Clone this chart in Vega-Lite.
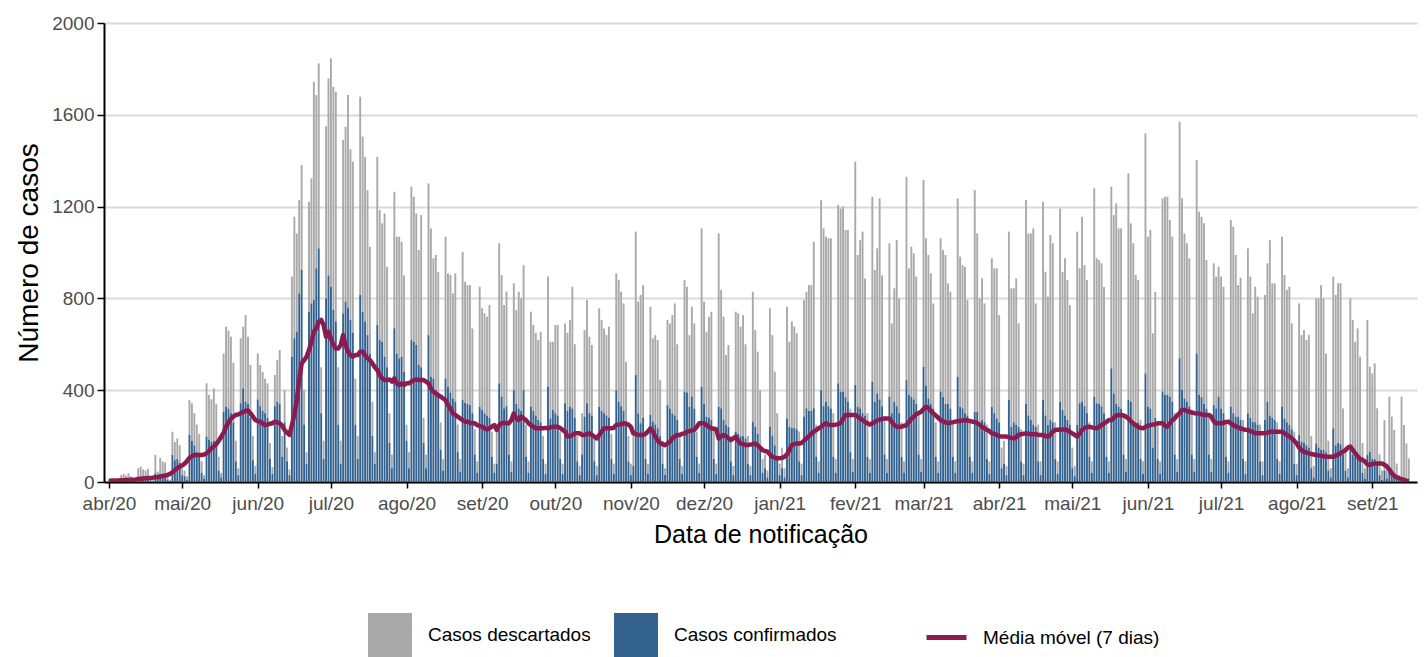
{
"$schema":"https://vega.github.io/schema/vega-lite/v6.json",
"width":1313,"height":459,
"autosize":{"type":"none"},
"padding":{"left":104,"top":23,"right":7,"bottom":175},
"background":"white",
"config":{"view":{"stroke":null},"font":"Liberation Sans"},
"data":{"values":[
{"data":"2020-04-01","conf":2,"desc":10,"mm":5},{"data":"2020-04-02","conf":3,"desc":12,"mm":6},{"data":"2020-04-03","conf":2,"desc":8,"mm":6},{"data":"2020-04-04","conf":1,"desc":4,"mm":7},{"data":"2020-04-05","conf":0,"desc":3,"mm":7},
{"data":"2020-04-06","conf":8,"desc":22,"mm":8},{"data":"2020-04-07","conf":9,"desc":26,"mm":8},{"data":"2020-04-08","conf":7,"desc":21,"mm":9},{"data":"2020-04-09","conf":10,"desc":28,"mm":9},{"data":"2020-04-10","conf":8,"desc":17,"mm":10},{"data":"2020-04-11","conf":3,"desc":9,"mm":10},{"data":"2020-04-12","conf":1,"desc":4,"mm":11},
{"data":"2020-04-13","conf":20,"desc":40,"mm":13},{"data":"2020-04-14","conf":24,"desc":43,"mm":14},{"data":"2020-04-15","conf":22,"desc":33,"mm":15},{"data":"2020-04-16","conf":20,"desc":30,"mm":16},{"data":"2020-04-17","conf":22,"desc":36,"mm":17},{"data":"2020-04-18","conf":8,"desc":12,"mm":18},{"data":"2020-04-19","conf":3,"desc":5,"mm":19},
{"data":"2020-04-20","conf":38,"desc":80,"mm":21},{"data":"2020-04-21","conf":14,"desc":31,"mm":22},{"data":"2020-04-22","conf":36,"desc":69,"mm":24},{"data":"2020-04-23","conf":32,"desc":58,"mm":26},{"data":"2020-04-24","conf":30,"desc":55,"mm":28},{"data":"2020-04-25","conf":10,"desc":20,"mm":31},{"data":"2020-04-26","conf":4,"desc":6,"mm":35},
{"data":"2020-04-27","conf":118,"desc":101,"mm":42},{"data":"2020-04-28","conf":95,"desc":80,"mm":52},{"data":"2020-04-29","conf":100,"desc":90,"mm":60},{"data":"2020-04-30","conf":85,"desc":75,"mm":67},{"data":"2020-05-01","conf":30,"desc":30,"mm":72},{"data":"2020-05-02","conf":25,"desc":25,"mm":80},{"data":"2020-05-03","conf":10,"desc":15,"mm":92},
{"data":"2020-05-04","conf":205,"desc":152,"mm":105},{"data":"2020-05-05","conf":180,"desc":163,"mm":112},{"data":"2020-05-06","conf":160,"desc":140,"mm":118},{"data":"2020-05-07","conf":130,"desc":120,"mm":118},{"data":"2020-05-08","conf":110,"desc":100,"mm":118},{"data":"2020-05-09","conf":40,"desc":50,"mm":118},{"data":"2020-05-10","conf":15,"desc":15,"mm":120},
{"data":"2020-05-11","conf":197,"desc":233,"mm":125},{"data":"2020-05-12","conf":185,"desc":194,"mm":135},{"data":"2020-05-13","conf":175,"desc":185,"mm":147},{"data":"2020-05-14","conf":180,"desc":228,"mm":155},{"data":"2020-05-15","conf":160,"desc":180,"mm":165},{"data":"2020-05-16","conf":50,"desc":60,"mm":180},{"data":"2020-05-17","conf":20,"desc":20,"mm":197},
{"data":"2020-05-18","conf":306,"desc":254,"mm":215},{"data":"2020-05-19","conf":328,"desc":349,"mm":241},{"data":"2020-05-20","conf":320,"desc":340,"mm":260},{"data":"2020-05-21","conf":300,"desc":333,"mm":275},{"data":"2020-05-22","conf":260,"desc":260,"mm":285},{"data":"2020-05-23","conf":90,"desc":90,"mm":292},{"data":"2020-05-24","conf":30,"desc":30,"mm":295},
{"data":"2020-05-25","conf":343,"desc":283,"mm":299},{"data":"2020-05-26","conf":408,"desc":269,"mm":305},{"data":"2020-05-27","conf":350,"desc":377,"mm":310},{"data":"2020-05-28","conf":340,"desc":293,"mm":312},{"data":"2020-05-29","conf":280,"desc":230,"mm":300},{"data":"2020-05-30","conf":95,"desc":105,"mm":285},{"data":"2020-05-31","conf":35,"desc":35,"mm":270},
{"data":"2020-06-01","conf":360,"desc":200,"mm":265},{"data":"2020-06-02","conf":330,"desc":180,"mm":263},{"data":"2020-06-03","conf":310,"desc":170,"mm":255},{"data":"2020-06-04","conf":300,"desc":150,"mm":248},{"data":"2020-06-05","conf":280,"desc":150,"mm":250},{"data":"2020-06-06","conf":100,"desc":70,"mm":254},{"data":"2020-06-07","conf":35,"desc":30,"mm":256},
{"data":"2020-06-08","conf":330,"desc":136,"mm":263},{"data":"2020-06-09","conf":350,"desc":181,"mm":260},{"data":"2020-06-10","conf":340,"desc":235,"mm":256},{"data":"2020-06-11","conf":110,"desc":90,"mm":245},{"data":"2020-06-12","conf":260,"desc":140,"mm":227},{"data":"2020-06-13","conf":90,"desc":60,"mm":215},{"data":"2020-06-14","conf":30,"desc":25,"mm":205},
{"data":"2020-06-15","conf":546,"desc":349,"mm":248},{"data":"2020-06-16","conf":626,"desc":530,"mm":292},{"data":"2020-06-17","conf":655,"desc":428,"mm":357},{"data":"2020-06-18","conf":822,"desc":407,"mm":444},{"data":"2020-06-19","conf":924,"desc":457,"mm":517},{"data":"2020-06-20","conf":250,"desc":150,"mm":531},{"data":"2020-06-21","conf":80,"desc":50,"mm":546},
{"data":"2020-06-22","conf":742,"desc":479,"mm":575},{"data":"2020-06-23","conf":778,"desc":545,"mm":611},{"data":"2020-06-24","conf":793,"desc":951,"mm":655},{"data":"2020-06-25","conf":931,"desc":755,"mm":669},{"data":"2020-06-26","conf":1018,"desc":806,"mm":698},{"data":"2020-06-27","conf":300,"desc":200,"mm":706},{"data":"2020-06-28","conf":100,"desc":80,"mm":684},
{"data":"2020-06-29","conf":800,"desc":750,"mm":633},{"data":"2020-06-30","conf":900,"desc":859,"mm":655},{"data":"2020-07-01","conf":850,"desc":996,"mm":626},{"data":"2020-07-02","conf":750,"desc":972,"mm":597},{"data":"2020-07-03","conf":700,"desc":1000,"mm":582},{"data":"2020-07-04","conf":250,"desc":250,"mm":582},{"data":"2020-07-05","conf":80,"desc":100,"mm":597},
{"data":"2020-07-06","conf":735,"desc":755,"mm":640},{"data":"2020-07-07","conf":786,"desc":762,"mm":597},{"data":"2020-07-08","conf":760,"desc":926,"mm":568},{"data":"2020-07-09","conf":706,"desc":744,"mm":553},{"data":"2020-07-10","conf":650,"desc":746,"mm":546},{"data":"2020-07-11","conf":250,"desc":200,"mm":553},{"data":"2020-07-12","conf":100,"desc":100,"mm":553},
{"data":"2020-07-13","conf":815,"desc":864,"mm":568},{"data":"2020-07-14","conf":742,"desc":763,"mm":568},{"data":"2020-07-15","conf":700,"desc":717,"mm":553},{"data":"2020-07-16","conf":640,"desc":632,"mm":539},{"data":"2020-07-17","conf":560,"desc":465,"mm":531},{"data":"2020-07-18","conf":200,"desc":150,"mm":517},{"data":"2020-07-19","conf":80,"desc":50,"mm":500},
{"data":"2020-07-20","conf":684,"desc":733,"mm":488},{"data":"2020-07-21","conf":619,"desc":566,"mm":466},{"data":"2020-07-22","conf":611,"desc":516,"mm":452},{"data":"2020-07-23","conf":546,"desc":624,"mm":444},{"data":"2020-07-24","conf":500,"desc":438,"mm":444},{"data":"2020-07-25","conf":170,"desc":130,"mm":447},{"data":"2020-07-26","conf":60,"desc":60,"mm":437},
{"data":"2020-07-27","conf":670,"desc":595,"mm":452},{"data":"2020-07-28","conf":560,"desc":509,"mm":430},{"data":"2020-07-29","conf":539,"desc":530,"mm":423},{"data":"2020-07-30","conf":546,"desc":501,"mm":430},{"data":"2020-07-31","conf":480,"desc":420,"mm":423},{"data":"2020-08-01","conf":180,"desc":70,"mm":430},{"data":"2020-08-02","conf":60,"desc":70,"mm":430},
{"data":"2020-08-03","conf":619,"desc":668,"mm":437},{"data":"2020-08-04","conf":610,"desc":633,"mm":444},{"data":"2020-08-05","conf":597,"desc":573,"mm":447},{"data":"2020-08-06","conf":510,"desc":501,"mm":444},{"data":"2020-08-07","conf":500,"desc":663,"mm":444},{"data":"2020-08-08","conf":170,"desc":110,"mm":444},{"data":"2020-08-09","conf":60,"desc":60,"mm":437},
{"data":"2020-08-10","conf":640,"desc":661,"mm":430},{"data":"2020-08-11","conf":459,"desc":646,"mm":408},{"data":"2020-08-12","conf":450,"desc":525,"mm":394},{"data":"2020-08-13","conf":401,"desc":588,"mm":386},{"data":"2020-08-14","conf":380,"desc":536,"mm":379},{"data":"2020-08-15","conf":140,"desc":120,"mm":372},{"data":"2020-08-16","conf":50,"desc":50,"mm":364},
{"data":"2020-08-17","conf":451,"desc":618,"mm":357},{"data":"2020-08-18","conf":415,"desc":494,"mm":335},{"data":"2020-08-19","conf":390,"desc":512,"mm":321},{"data":"2020-08-20","conf":364,"desc":458,"mm":299},{"data":"2020-08-21","conf":350,"desc":559,"mm":292},{"data":"2020-08-22","conf":130,"desc":120,"mm":285},{"data":"2020-08-23","conf":45,"desc":55,"mm":277},
{"data":"2020-08-24","conf":357,"desc":646,"mm":270},{"data":"2020-08-25","conf":345,"desc":528,"mm":263},{"data":"2020-08-26","conf":340,"desc":518,"mm":263},{"data":"2020-08-27","conf":335,"desc":523,"mm":258},{"data":"2020-08-28","conf":300,"desc":369,"mm":256},{"data":"2020-08-29","conf":120,"desc":110,"mm":256},{"data":"2020-08-30","conf":40,"desc":50,"mm":248},
{"data":"2020-08-31","conf":328,"desc":523,"mm":244},{"data":"2020-09-01","conf":315,"desc":442,"mm":241},{"data":"2020-09-02","conf":299,"desc":436,"mm":234},{"data":"2020-09-03","conf":290,"desc":430,"mm":229},{"data":"2020-09-04","conf":280,"desc":491,"mm":234},{"data":"2020-09-05","conf":110,"desc":110,"mm":241},{"data":"2020-09-06","conf":40,"desc":40,"mm":248},
{"data":"2020-09-07","conf":80,"desc":170,"mm":227},{"data":"2020-09-08","conf":430,"desc":610,"mm":248},{"data":"2020-09-09","conf":372,"desc":530,"mm":256},{"data":"2020-09-10","conf":321,"desc":450,"mm":258},{"data":"2020-09-11","conf":330,"desc":500,"mm":256},{"data":"2020-09-12","conf":120,"desc":140,"mm":256},{"data":"2020-09-13","conf":45,"desc":45,"mm":270},
{"data":"2020-09-14","conf":400,"desc":466,"mm":299},{"data":"2020-09-15","conf":340,"desc":409,"mm":277},{"data":"2020-09-16","conf":320,"desc":509,"mm":270},{"data":"2020-09-17","conf":310,"desc":490,"mm":285},{"data":"2020-09-18","conf":400,"desc":545,"mm":277},{"data":"2020-09-19","conf":110,"desc":140,"mm":270},{"data":"2020-09-20","conf":40,"desc":50,"mm":256},
{"data":"2020-09-21","conf":328,"desc":414,"mm":248},{"data":"2020-09-22","conf":310,"desc":374,"mm":241},{"data":"2020-09-23","conf":290,"desc":360,"mm":234},{"data":"2020-09-24","conf":270,"desc":349,"mm":234},{"data":"2020-09-25","conf":260,"desc":395,"mm":234},{"data":"2020-09-26","conf":100,"desc":100,"mm":234},{"data":"2020-09-27","conf":35,"desc":45,"mm":236},
{"data":"2020-09-28","conf":415,"desc":480,"mm":234},{"data":"2020-09-29","conf":277,"desc":334,"mm":238},{"data":"2020-09-30","conf":314,"desc":297,"mm":241},{"data":"2020-10-01","conf":300,"desc":384,"mm":241},{"data":"2020-10-02","conf":290,"desc":394,"mm":241},{"data":"2020-10-03","conf":100,"desc":120,"mm":235},{"data":"2020-10-04","conf":35,"desc":45,"mm":227},
{"data":"2020-10-05","conf":343,"desc":348,"mm":220},{"data":"2020-10-06","conf":310,"desc":340,"mm":198},{"data":"2020-10-07","conf":328,"desc":378,"mm":200},{"data":"2020-10-08","conf":320,"desc":531,"mm":205},{"data":"2020-10-09","conf":280,"desc":320,"mm":212},{"data":"2020-10-10","conf":90,"desc":110,"mm":212},{"data":"2020-10-11","conf":30,"desc":40,"mm":212},
{"data":"2020-10-12","conf":120,"desc":180,"mm":205},{"data":"2020-10-13","conf":285,"desc":377,"mm":205},{"data":"2020-10-14","conf":343,"desc":450,"mm":208},{"data":"2020-10-15","conf":300,"desc":333,"mm":212},{"data":"2020-10-16","conf":290,"desc":307,"mm":205},{"data":"2020-10-17","conf":90,"desc":110,"mm":198},{"data":"2020-10-18","conf":30,"desc":40,"mm":190},
{"data":"2020-10-19","conf":328,"desc":429,"mm":205},{"data":"2020-10-20","conf":310,"desc":396,"mm":220},{"data":"2020-10-21","conf":300,"desc":369,"mm":234},{"data":"2020-10-22","conf":290,"desc":350,"mm":234},{"data":"2020-10-23","conf":280,"desc":397,"mm":234},{"data":"2020-10-24","conf":100,"desc":110,"mm":234},{"data":"2020-10-25","conf":35,"desc":45,"mm":236},
{"data":"2020-10-26","conf":400,"desc":509,"mm":248},{"data":"2020-10-27","conf":350,"desc":530,"mm":250},{"data":"2020-10-28","conf":330,"desc":499,"mm":252},{"data":"2020-10-29","conf":310,"desc":468,"mm":256},{"data":"2020-10-30","conf":260,"desc":264,"mm":254},{"data":"2020-10-31","conf":90,"desc":110,"mm":250},{"data":"2020-11-01","conf":30,"desc":50,"mm":240},
{"data":"2020-11-02","conf":70,"desc":130,"mm":212},{"data":"2020-11-03","conf":466,"desc":625,"mm":208},{"data":"2020-11-04","conf":299,"desc":487,"mm":205},{"data":"2020-11-05","conf":256,"desc":559,"mm":205},{"data":"2020-11-06","conf":280,"desc":578,"mm":205},{"data":"2020-11-07","conf":100,"desc":120,"mm":210},{"data":"2020-11-08","conf":35,"desc":45,"mm":220},
{"data":"2020-11-09","conf":292,"desc":472,"mm":234},{"data":"2020-11-10","conf":263,"desc":363,"mm":220},{"data":"2020-11-11","conf":250,"desc":390,"mm":198},{"data":"2020-11-12","conf":234,"desc":385,"mm":180},{"data":"2020-11-13","conf":200,"desc":244,"mm":170},{"data":"2020-11-14","conf":80,"desc":100,"mm":165},{"data":"2020-11-15","conf":30,"desc":30,"mm":160},
{"data":"2020-11-16","conf":335,"desc":371,"mm":168},{"data":"2020-11-17","conf":320,"desc":371,"mm":175},{"data":"2020-11-18","conf":299,"desc":428,"mm":190},{"data":"2020-11-19","conf":290,"desc":488,"mm":198},{"data":"2020-11-20","conf":270,"desc":330,"mm":205},{"data":"2020-11-21","conf":100,"desc":100,"mm":205},{"data":"2020-11-22","conf":35,"desc":35,"mm":210},
{"data":"2020-11-23","conf":394,"desc":486,"mm":212},{"data":"2020-11-24","conf":390,"desc":461,"mm":219},{"data":"2020-11-25","conf":328,"desc":312,"mm":222},{"data":"2020-11-26","conf":372,"desc":392,"mm":225},{"data":"2020-11-27","conf":320,"desc":371,"mm":227},{"data":"2020-11-28","conf":110,"desc":110,"mm":240},{"data":"2020-11-29","conf":40,"desc":40,"mm":256},
{"data":"2020-11-30","conf":415,"desc":690,"mm":256},{"data":"2020-12-01","conf":340,"desc":446,"mm":256},{"data":"2020-12-02","conf":285,"desc":370,"mm":248},{"data":"2020-12-03","conf":280,"desc":440,"mm":240},{"data":"2020-12-04","conf":270,"desc":472,"mm":234},{"data":"2020-12-05","conf":100,"desc":130,"mm":232},{"data":"2020-12-06","conf":35,"desc":45,"mm":230},
{"data":"2020-12-07","conf":328,"desc":755,"mm":190},{"data":"2020-12-08","conf":321,"desc":516,"mm":198},{"data":"2020-12-09","conf":270,"desc":450,"mm":205},{"data":"2020-12-10","conf":250,"desc":303,"mm":200},{"data":"2020-12-11","conf":240,"desc":357,"mm":190},{"data":"2020-12-12","conf":90,"desc":110,"mm":183},{"data":"2020-12-13","conf":30,"desc":40,"mm":190},
{"data":"2020-12-14","conf":219,"desc":523,"mm":198},{"data":"2020-12-15","conf":210,"desc":525,"mm":180},{"data":"2020-12-16","conf":200,"desc":477,"mm":168},{"data":"2020-12-17","conf":200,"desc":527,"mm":165},{"data":"2020-12-18","conf":190,"desc":410,"mm":161},{"data":"2020-12-19","conf":80,"desc":120,"mm":161},{"data":"2020-12-20","conf":30,"desc":40,"mm":163},
{"data":"2020-12-21","conf":263,"desc":566,"mm":165},{"data":"2020-12-22","conf":240,"desc":422,"mm":168},{"data":"2020-12-23","conf":210,"desc":358,"mm":160},{"data":"2020-12-24","conf":150,"desc":250,"mm":150},{"data":"2020-12-25","conf":40,"desc":60,"mm":139},{"data":"2020-12-26","conf":60,"desc":60,"mm":135},{"data":"2020-12-27","conf":20,"desc":30,"mm":132},
{"data":"2020-12-28","conf":241,"desc":516,"mm":120},{"data":"2020-12-29","conf":200,"desc":440,"mm":110},{"data":"2020-12-30","conf":160,"desc":321,"mm":106},{"data":"2020-12-31","conf":100,"desc":200,"mm":103},{"data":"2021-01-01","conf":30,"desc":50,"mm":103},{"data":"2021-01-02","conf":60,"desc":90,"mm":105},{"data":"2021-01-03","conf":20,"desc":40,"mm":110},
{"data":"2021-01-04","conf":277,"desc":487,"mm":120},{"data":"2021-01-05","conf":240,"desc":371,"mm":140},{"data":"2021-01-06","conf":235,"desc":465,"mm":161},{"data":"2021-01-07","conf":235,"desc":442,"mm":165},{"data":"2021-01-08","conf":230,"desc":418,"mm":168},{"data":"2021-01-09","conf":90,"desc":130,"mm":168},{"data":"2021-01-10","conf":30,"desc":50,"mm":170},
{"data":"2021-01-11","conf":285,"desc":508,"mm":180},{"data":"2021-01-12","conf":321,"desc":508,"mm":190},{"data":"2021-01-13","conf":310,"desc":548,"mm":200},{"data":"2021-01-14","conf":310,"desc":548,"mm":210},{"data":"2021-01-15","conf":321,"desc":726,"mm":219},{"data":"2021-01-16","conf":110,"desc":140,"mm":226},{"data":"2021-01-17","conf":40,"desc":50,"mm":234},
{"data":"2021-01-18","conf":400,"desc":829,"mm":240},{"data":"2021-01-19","conf":330,"desc":775,"mm":250},{"data":"2021-01-20","conf":350,"desc":719,"mm":256},{"data":"2021-01-21","conf":330,"desc":732,"mm":250},{"data":"2021-01-22","conf":320,"desc":742,"mm":248},{"data":"2021-01-23","conf":110,"desc":190,"mm":248},{"data":"2021-01-24","conf":40,"desc":60,"mm":250},
{"data":"2021-01-25","conf":430,"desc":777,"mm":252},{"data":"2021-01-26","conf":394,"desc":798,"mm":256},{"data":"2021-01-27","conf":394,"desc":806,"mm":275},{"data":"2021-01-28","conf":370,"desc":728,"mm":292},{"data":"2021-01-29","conf":350,"desc":748,"mm":292},{"data":"2021-01-30","conf":130,"desc":190,"mm":292},{"data":"2021-01-31","conf":45,"desc":55,"mm":292},
{"data":"2021-02-01","conf":423,"desc":973,"mm":292},{"data":"2021-02-02","conf":328,"desc":661,"mm":285},{"data":"2021-02-03","conf":321,"desc":733,"mm":277},{"data":"2021-02-04","conf":300,"desc":791,"mm":270},{"data":"2021-02-05","conf":290,"desc":597,"mm":262},{"data":"2021-02-06","conf":110,"desc":190,"mm":256},{"data":"2021-02-07","conf":40,"desc":60,"mm":250},
{"data":"2021-02-08","conf":437,"desc":806,"mm":256},{"data":"2021-02-09","conf":350,"desc":574,"mm":262},{"data":"2021-02-10","conf":386,"desc":632,"mm":268},{"data":"2021-02-11","conf":360,"desc":876,"mm":272},{"data":"2021-02-12","conf":330,"desc":570,"mm":275},{"data":"2021-02-13","conf":120,"desc":160,"mm":277},{"data":"2021-02-14","conf":40,"desc":60,"mm":277},
{"data":"2021-02-15","conf":372,"desc":668,"mm":277},{"data":"2021-02-16","conf":300,"desc":391,"mm":262},{"data":"2021-02-17","conf":350,"desc":494,"mm":248},{"data":"2021-02-18","conf":330,"desc":724,"mm":241},{"data":"2021-02-19","conf":300,"desc":500,"mm":241},{"data":"2021-02-20","conf":110,"desc":150,"mm":241},{"data":"2021-02-21","conf":40,"desc":50,"mm":245},
{"data":"2021-02-22","conf":444,"desc":886,"mm":248},{"data":"2021-02-23","conf":379,"desc":552,"mm":262},{"data":"2021-02-24","conf":370,"desc":655,"mm":275},{"data":"2021-02-25","conf":360,"desc":636,"mm":285},{"data":"2021-02-26","conf":340,"desc":555,"mm":295},{"data":"2021-02-27","conf":120,"desc":170,"mm":300},{"data":"2021-02-28","conf":45,"desc":55,"mm":306},
{"data":"2021-03-01","conf":502,"desc":814,"mm":318},{"data":"2021-03-02","conf":420,"desc":642,"mm":328},{"data":"2021-03-03","conf":364,"desc":625,"mm":322},{"data":"2021-03-04","conf":340,"desc":569,"mm":310},{"data":"2021-03-05","conf":320,"desc":458,"mm":299},{"data":"2021-03-06","conf":110,"desc":150,"mm":290},{"data":"2021-03-07","conf":40,"desc":50,"mm":280},
{"data":"2021-03-08","conf":394,"desc":668,"mm":270},{"data":"2021-03-09","conf":370,"desc":641,"mm":264},{"data":"2021-03-10","conf":340,"desc":649,"mm":260},{"data":"2021-03-11","conf":340,"desc":526,"mm":256},{"data":"2021-03-12","conf":320,"desc":509,"mm":258},{"data":"2021-03-13","conf":110,"desc":140,"mm":260},{"data":"2021-03-14","conf":40,"desc":50,"mm":263},
{"data":"2021-03-15","conf":459,"desc":777,"mm":265},{"data":"2021-03-16","conf":328,"desc":654,"mm":267},{"data":"2021-03-17","conf":321,"desc":624,"mm":268},{"data":"2021-03-18","conf":300,"desc":638,"mm":270},{"data":"2021-03-19","conf":290,"desc":503,"mm":268},{"data":"2021-03-20","conf":110,"desc":150,"mm":266},{"data":"2021-03-21","conf":40,"desc":50,"mm":263},
{"data":"2021-03-22","conf":306,"desc":966,"mm":262},{"data":"2021-03-23","conf":306,"desc":777,"mm":256},{"data":"2021-03-24","conf":241,"desc":559,"mm":250},{"data":"2021-03-25","conf":270,"desc":617,"mm":240},{"data":"2021-03-26","conf":260,"desc":518,"mm":234},{"data":"2021-03-27","conf":100,"desc":150,"mm":227},{"data":"2021-03-28","conf":35,"desc":55,"mm":222},
{"data":"2021-03-29","conf":328,"desc":647,"mm":212},{"data":"2021-03-30","conf":300,"desc":631,"mm":210},{"data":"2021-03-31","conf":277,"desc":654,"mm":205},{"data":"2021-04-01","conf":260,"desc":467,"mm":200},{"data":"2021-04-02","conf":60,"desc":90,"mm":198},{"data":"2021-04-03","conf":80,"desc":100,"mm":198},{"data":"2021-04-04","conf":30,"desc":40,"mm":198},
{"data":"2021-04-05","conf":357,"desc":734,"mm":195},{"data":"2021-04-06","conf":241,"desc":603,"mm":192},{"data":"2021-04-07","conf":260,"desc":584,"mm":190},{"data":"2021-04-08","conf":250,"desc":637,"mm":195},{"data":"2021-04-09","conf":240,"desc":451,"mm":205},{"data":"2021-04-10","conf":90,"desc":140,"mm":208},{"data":"2021-04-11","conf":30,"desc":50,"mm":210},
{"data":"2021-04-12","conf":340,"desc":889,"mm":212},{"data":"2021-04-13","conf":290,"desc":793,"mm":210},{"data":"2021-04-14","conf":270,"desc":813,"mm":208},{"data":"2021-04-15","conf":250,"desc":855,"mm":208},{"data":"2021-04-16","conf":240,"desc":538,"mm":208},{"data":"2021-04-17","conf":90,"desc":160,"mm":206},{"data":"2021-04-18","conf":30,"desc":60,"mm":205},
{"data":"2021-04-19","conf":357,"desc":864,"mm":205},{"data":"2021-04-20","conf":290,"desc":626,"mm":200},{"data":"2021-04-21","conf":248,"desc":560,"mm":198},{"data":"2021-04-22","conf":270,"desc":806,"mm":205},{"data":"2021-04-23","conf":260,"desc":780,"mm":220},{"data":"2021-04-24","conf":100,"desc":160,"mm":227},{"data":"2021-04-25","conf":35,"desc":55,"mm":228},
{"data":"2021-04-26","conf":350,"desc":842,"mm":229},{"data":"2021-04-27","conf":314,"desc":602,"mm":229},{"data":"2021-04-28","conf":290,"desc":685,"mm":229},{"data":"2021-04-29","conf":270,"desc":610,"mm":225},{"data":"2021-04-30","conf":250,"desc":521,"mm":218},{"data":"2021-05-01","conf":60,"desc":90,"mm":212},{"data":"2021-05-02","conf":25,"desc":45,"mm":205},
{"data":"2021-05-03","conf":248,"desc":843,"mm":198},{"data":"2021-05-04","conf":343,"desc":588,"mm":210},{"data":"2021-05-05","conf":350,"desc":806,"mm":227},{"data":"2021-05-06","conf":330,"desc":615,"mm":235},{"data":"2021-05-07","conf":300,"desc":580,"mm":240},{"data":"2021-05-08","conf":110,"desc":150,"mm":241},{"data":"2021-05-09","conf":40,"desc":50,"mm":238},
{"data":"2021-05-10","conf":372,"desc":908,"mm":236},{"data":"2021-05-11","conf":343,"desc":632,"mm":234},{"data":"2021-05-12","conf":340,"desc":627,"mm":240},{"data":"2021-05-13","conf":330,"desc":623,"mm":248},{"data":"2021-05-14","conf":300,"desc":550,"mm":255},{"data":"2021-05-15","conf":110,"desc":150,"mm":262},{"data":"2021-05-16","conf":40,"desc":50,"mm":270},
{"data":"2021-05-17","conf":495,"desc":792,"mm":270},{"data":"2021-05-18","conf":386,"desc":777,"mm":280},{"data":"2021-05-19","conf":340,"desc":874,"mm":290},{"data":"2021-05-20","conf":328,"desc":777,"mm":292},{"data":"2021-05-21","conf":320,"desc":785,"mm":292},{"data":"2021-05-22","conf":120,"desc":180,"mm":290},{"data":"2021-05-23","conf":45,"desc":55,"mm":285},
{"data":"2021-05-24","conf":357,"desc":988,"mm":277},{"data":"2021-05-25","conf":350,"desc":777,"mm":265},{"data":"2021-05-26","conf":248,"desc":792,"mm":255},{"data":"2021-05-27","conf":240,"desc":662,"mm":248},{"data":"2021-05-28","conf":260,"desc":620,"mm":240},{"data":"2021-05-29","conf":100,"desc":170,"mm":236},{"data":"2021-05-30","conf":35,"desc":55,"mm":234},
{"data":"2021-05-31","conf":473,"desc":1046,"mm":240},{"data":"2021-06-01","conf":328,"desc":741,"mm":245},{"data":"2021-06-02","conf":320,"desc":778,"mm":248},{"data":"2021-06-03","conf":150,"desc":498,"mm":250},{"data":"2021-06-04","conf":280,"desc":549,"mm":252},{"data":"2021-06-05","conf":100,"desc":150,"mm":256},{"data":"2021-06-06","conf":35,"desc":55,"mm":256},
{"data":"2021-06-07","conf":394,"desc":842,"mm":256},{"data":"2021-06-08","conf":380,"desc":863,"mm":245},{"data":"2021-06-09","conf":380,"desc":863,"mm":241},{"data":"2021-06-10","conf":372,"desc":770,"mm":255},{"data":"2021-06-11","conf":350,"desc":719,"mm":270},{"data":"2021-06-12","conf":120,"desc":180,"mm":277},{"data":"2021-06-13","conf":45,"desc":55,"mm":290},
{"data":"2021-06-14","conf":539,"desc":1031,"mm":300},{"data":"2021-06-15","conf":401,"desc":835,"mm":314},{"data":"2021-06-16","conf":364,"desc":719,"mm":314},{"data":"2021-06-17","conf":350,"desc":690,"mm":310},{"data":"2021-06-18","conf":330,"desc":645,"mm":306},{"data":"2021-06-19","conf":120,"desc":180,"mm":303},{"data":"2021-06-20","conf":45,"desc":55,"mm":300},
{"data":"2021-06-21","conf":560,"desc":843,"mm":299},{"data":"2021-06-22","conf":379,"desc":799,"mm":298},{"data":"2021-06-23","conf":370,"desc":786,"mm":295},{"data":"2021-06-24","conf":340,"desc":787,"mm":292},{"data":"2021-06-25","conf":320,"desc":647,"mm":292},{"data":"2021-06-26","conf":120,"desc":180,"mm":292},{"data":"2021-06-27","conf":45,"desc":55,"mm":285},
{"data":"2021-06-28","conf":335,"desc":618,"mm":265},{"data":"2021-06-29","conf":321,"desc":574,"mm":256},{"data":"2021-06-30","conf":372,"desc":566,"mm":256},{"data":"2021-07-01","conf":320,"desc":575,"mm":256},{"data":"2021-07-02","conf":300,"desc":551,"mm":258},{"data":"2021-07-03","conf":110,"desc":150,"mm":262},{"data":"2021-07-04","conf":40,"desc":50,"mm":263},
{"data":"2021-07-05","conf":328,"desc":814,"mm":255},{"data":"2021-07-06","conf":300,"desc":813,"mm":248},{"data":"2021-07-07","conf":285,"desc":704,"mm":242},{"data":"2021-07-08","conf":285,"desc":573,"mm":238},{"data":"2021-07-09","conf":270,"desc":620,"mm":234},{"data":"2021-07-10","conf":100,"desc":170,"mm":230},{"data":"2021-07-11","conf":35,"desc":55,"mm":228},
{"data":"2021-07-12","conf":299,"desc":719,"mm":227},{"data":"2021-07-13","conf":280,"desc":615,"mm":222},{"data":"2021-07-14","conf":263,"desc":472,"mm":218},{"data":"2021-07-15","conf":260,"desc":591,"mm":212},{"data":"2021-07-16","conf":250,"desc":558,"mm":212},{"data":"2021-07-17","conf":90,"desc":160,"mm":212},{"data":"2021-07-18","conf":30,"desc":60,"mm":212},
{"data":"2021-07-19","conf":270,"desc":545,"mm":212},{"data":"2021-07-20","conf":350,"desc":603,"mm":215},{"data":"2021-07-21","conf":290,"desc":764,"mm":219},{"data":"2021-07-22","conf":280,"desc":586,"mm":219},{"data":"2021-07-23","conf":270,"desc":596,"mm":219},{"data":"2021-07-24","conf":100,"desc":160,"mm":219},{"data":"2021-07-25","conf":35,"desc":55,"mm":219},
{"data":"2021-07-26","conf":328,"desc":741,"mm":219},{"data":"2021-07-27","conf":277,"desc":625,"mm":212},{"data":"2021-07-28","conf":260,"desc":577,"mm":205},{"data":"2021-07-29","conf":250,"desc":601,"mm":198},{"data":"2021-07-30","conf":230,"desc":461,"mm":190},{"data":"2021-07-31","conf":80,"desc":140,"mm":180},{"data":"2021-08-01","conf":30,"desc":50,"mm":168},
{"data":"2021-08-02","conf":205,"desc":573,"mm":150},{"data":"2021-08-03","conf":176,"desc":464,"mm":138},{"data":"2021-08-04","conf":170,"desc":492,"mm":132},{"data":"2021-08-05","conf":160,"desc":459,"mm":128},{"data":"2021-08-06","conf":150,"desc":490,"mm":125},{"data":"2021-08-07","conf":60,"desc":140,"mm":122},{"data":"2021-08-08","conf":20,"desc":50,"mm":120},
{"data":"2021-08-09","conf":168,"desc":632,"mm":118},{"data":"2021-08-10","conf":150,"desc":650,"mm":116},{"data":"2021-08-11","conf":140,"desc":718,"mm":114},{"data":"2021-08-12","conf":140,"desc":660,"mm":112},{"data":"2021-08-13","conf":130,"desc":430,"mm":110},{"data":"2021-08-14","conf":50,"desc":130,"mm":110},{"data":"2021-08-15","conf":20,"desc":40,"mm":110},
{"data":"2021-08-16","conf":234,"desc":661,"mm":110},{"data":"2021-08-17","conf":160,"desc":655,"mm":115},{"data":"2021-08-18","conf":170,"desc":696,"mm":120},{"data":"2021-08-19","conf":165,"desc":701,"mm":125},{"data":"2021-08-20","conf":120,"desc":200,"mm":132},{"data":"2021-08-21","conf":50,"desc":100,"mm":139},{"data":"2021-08-22","conf":20,"desc":40,"mm":150},
{"data":"2021-08-23","conf":139,"desc":661,"mm":154},{"data":"2021-08-24","conf":118,"desc":588,"mm":140},{"data":"2021-08-25","conf":110,"desc":501,"mm":125},{"data":"2021-08-26","conf":105,"desc":564,"mm":112},{"data":"2021-08-27","conf":100,"desc":446,"mm":100},{"data":"2021-08-28","conf":40,"desc":130,"mm":96},{"data":"2021-08-29","conf":15,"desc":45,"mm":90},
{"data":"2021-08-30","conf":118,"desc":588,"mm":76},{"data":"2021-08-31","conf":132,"desc":370,"mm":74},{"data":"2021-09-01","conf":100,"desc":373,"mm":78},{"data":"2021-09-02","conf":100,"desc":417,"mm":81},{"data":"2021-09-03","conf":80,"desc":241,"mm":81},{"data":"2021-09-04","conf":30,"desc":90,"mm":81},{"data":"2021-09-05","conf":10,"desc":40,"mm":81},
{"data":"2021-09-06","conf":50,"desc":220,"mm":75},{"data":"2021-09-07","conf":15,"desc":65,"mm":67},{"data":"2021-09-08","conf":45,"desc":327,"mm":55},{"data":"2021-09-09","conf":40,"desc":245,"mm":38},{"data":"2021-09-10","conf":35,"desc":192,"mm":28},{"data":"2021-09-11","conf":10,"desc":70,"mm":20},{"data":"2021-09-12","conf":5,"desc":25,"mm":16},
{"data":"2021-09-13","conf":20,"desc":352,"mm":12},{"data":"2021-09-14","conf":15,"desc":233,"mm":9},{"data":"2021-09-15","conf":10,"desc":158,"mm":6},{"data":"2021-09-16","conf":5,"desc":98,"mm":4}
]},
"layer":[
{"transform":[{"fold":["desc","conf"],"as":["tipo","valor"]}],
 "mark":{"type":"bar","width":1.9,"clip":true},
 "encoding":{
  "x":{"field":"data","type":"temporal",
   "scale":{"type":"utc","domain":[{"year":2020,"month":4,"date":1,"utc":true},{"year":2021,"month":9,"date":17,"hours":7,"utc":true}]},
   "axis":{"title":"Data de notificação","titleFontSize":25,"titleFontWeight":"normal","titleColor":"black","titlePadding":9,
    "values":[{"year":2020,"month":4,"date":1,"utc":true},{"year":2020,"month":5,"date":1,"utc":true},{"year":2020,"month":6,"date":1,"utc":true},{"year":2020,"month":7,"date":1,"utc":true},{"year":2020,"month":8,"date":1,"utc":true},{"year":2020,"month":9,"date":1,"utc":true},{"year":2020,"month":10,"date":1,"utc":true},{"year":2020,"month":11,"date":1,"utc":true},{"year":2020,"month":12,"date":1,"utc":true},{"year":2021,"month":1,"date":1,"utc":true},{"year":2021,"month":2,"date":1,"utc":true},{"year":2021,"month":3,"date":1,"utc":true},{"year":2021,"month":4,"date":1,"utc":true},{"year":2021,"month":5,"date":1,"utc":true},{"year":2021,"month":6,"date":1,"utc":true},{"year":2021,"month":7,"date":1,"utc":true},{"year":2021,"month":8,"date":1,"utc":true},{"year":2021,"month":9,"date":1,"utc":true}],
    "labelExpr":"['jan','fev','mar','abr','mai','jun','jul','ago','set','out','nov','dez'][utcmonth(datum.value)] + '/' + utcFormat(datum.value, '%y')",
    "labelFontSize":19,"labelColor":"#4D4D4D","labelPadding":6,"labelOverlap":false,"labelFlush":false,
    "grid":false,"domainColor":"black","domainWidth":2,"tickColor":"black","tickWidth":1.5,"tickSize":6}},
  "y":{"field":"valor","type":"quantitative","stack":"zero",
   "scale":{"domain":[0,2000],"nice":false},
   "axis":{"title":"Número de casos","titleFontSize":28,"titleFontWeight":"normal","titleColor":"black","titlePadding":8,"format":"d",
    "values":[0,400,800,1200,1600,2000],"labelFontSize":19,"labelColor":"#4D4D4D","labelPadding":3,
    "grid":true,"gridColor":"#D9D9D9","gridWidth":2,"domainColor":"black","domainWidth":2,"tickColor":"black","tickWidth":1.5,"tickSize":7}},
  "color":{"field":"tipo","type":"nominal",
   "scale":{"domain":["desc","conf"],"range":["#A9A9A9","#33628F"]},
   "legend":{"title":null,"orient":"none","legendX":264,"legendY":590,"direction":"horizontal","symbolType":"square","symbolSize":1936,"symbolStrokeWidth":0,"symbolOpacity":1,"labelFontSize":19,"labelColor":"black","labelOffset":16,"columnPadding":23,"labelLimit":400,"padding":0,
    "labelExpr":"datum.value == 'desc' ? 'Casos descartados' : 'Casos confirmados'"}},
  "order":{"field":"tipo","sort":"ascending"}
 }},
{"mark":{"type":"line","strokeWidth":4.5,"clip":true,"strokeJoin":"round"},
 "encoding":{
  "x":{"field":"data","type":"temporal"},
  "y":{"field":"mm","type":"quantitative"},
  "stroke":{"datum":"Média móvel (7 dias)","type":"nominal","scale":{"range":["#8C1C50"]},
   "legend":{"title":null,"orient":"none","legendX":820,"legendY":592,"symbolType":"stroke","symbolSize":1600,"symbolStrokeWidth":5,"labelFontSize":19,"labelColor":"black","labelOffset":14,"labelLimit":400,"padding":0}}
 }}
]
}
